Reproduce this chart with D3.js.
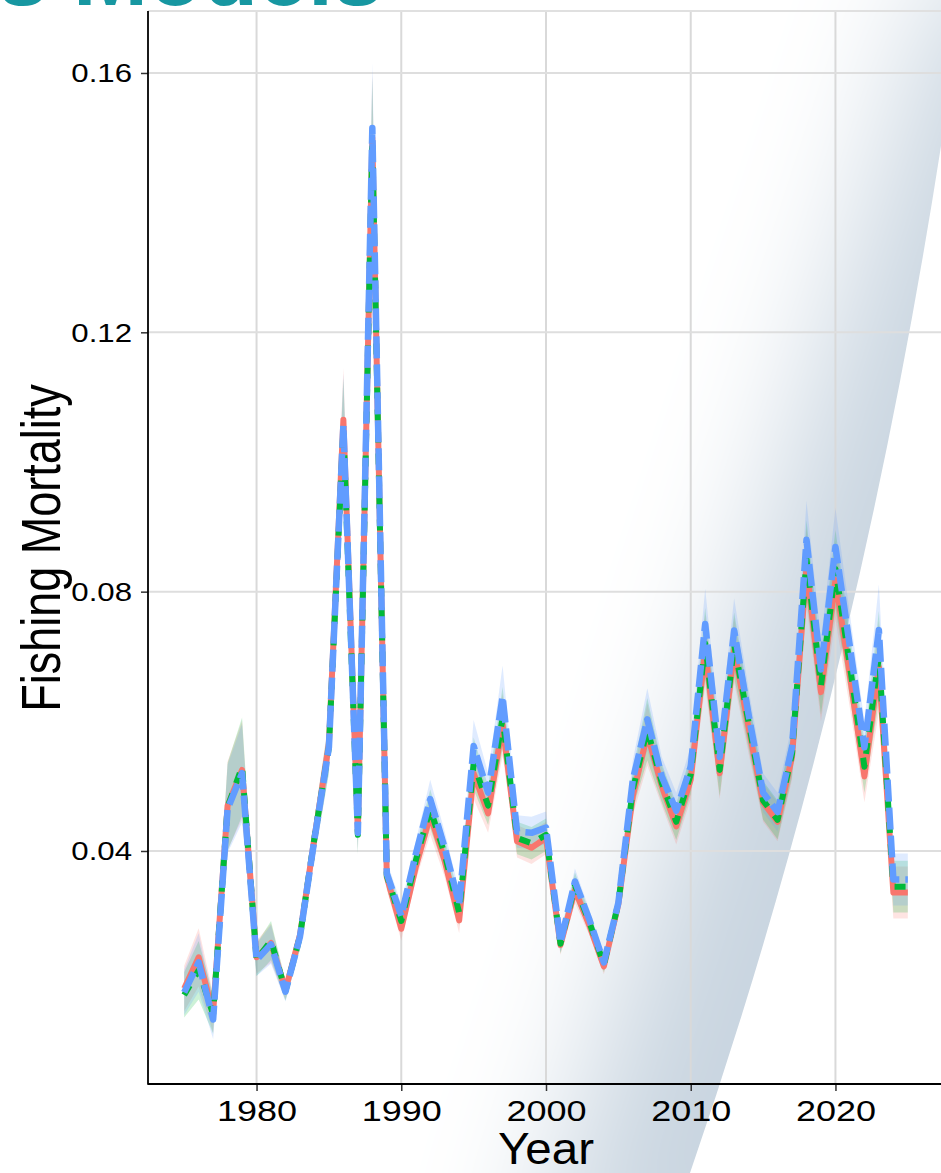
<!DOCTYPE html>
<html lang="en">
<head>
<meta charset="UTF-8">
<title>Fishing Mortality</title>
<script src="https://d3js.org/d3.v7.min.js"></script>
<style>
  body { margin: 0; background: #fff; overflow: hidden; }
  svg { display: block; font-family: Arial, "Liberation Sans", sans-serif; }
</style>
</head>
<body>
<div class="canvas"></div>
<script>
  const years = [1975, 1976, 1977, 1978, 1979, 1980, 1981, 1982, 1983, 1984,
    1985, 1986, 1987, 1988, 1989, 1990, 1991, 1992, 1993, 1994,
    1995, 1996, 1997, 1998, 1999, 2000, 2001, 2002, 2003, 2004,
    2005, 2006, 2007, 2008, 2009, 2010, 2011, 2012, 2013, 2014,
    2015, 2016, 2017, 2018, 2019, 2020, 2021, 2022, 2023, 2024, 2025]

  // model 1 (red, solid)
  const fRed = [0.0188, 0.0236, 0.0150, 0.0470, 0.0525, 0.0236, 0.0258, 0.0186, 0.0270, 0.0420,
    0.0565, 0.1065, 0.0430, 0.1500, 0.0360, 0.0280, 0.0375, 0.0455, 0.0385, 0.0293,
    0.0520, 0.0458, 0.0595, 0.0415, 0.0405, 0.0420, 0.0255, 0.0340, 0.0285, 0.0222,
    0.0318, 0.0485, 0.0580, 0.0500, 0.0438, 0.0510, 0.0710, 0.0520, 0.0710, 0.0590,
    0.0475, 0.0445, 0.0545, 0.0838, 0.0645, 0.0818, 0.0670, 0.0515, 0.0684, 0.0336, 0.0336]

  // model 2 (green, dashed)
  const fGreen = [0.0178, 0.0216, 0.0148, 0.0468, 0.0530, 0.0232, 0.0262, 0.0184, 0.0268, 0.0420,
    0.0560, 0.1050, 0.0425, 0.1495, 0.0362, 0.0292, 0.0385, 0.0465, 0.0395, 0.0305,
    0.0535, 0.0470, 0.0605, 0.0420, 0.0412, 0.0425, 0.0257, 0.0347, 0.0290, 0.0225,
    0.0320, 0.0495, 0.0588, 0.0505, 0.0445, 0.0518, 0.0720, 0.0525, 0.0718, 0.0598,
    0.0478, 0.0448, 0.0550, 0.0850, 0.0655, 0.0835, 0.0685, 0.0530, 0.0700, 0.0345, 0.0345]

  // model 3 (blue, long dash)
  const fBlue = [0.0182, 0.0228, 0.0140, 0.0465, 0.0520, 0.0232, 0.0256, 0.0183, 0.0268, 0.0418,
    0.0560, 0.1057, 0.0428, 0.1515, 0.0365, 0.0300, 0.0395, 0.0480, 0.0405, 0.0318,
    0.0562, 0.0490, 0.0638, 0.0430, 0.0428, 0.0436, 0.0259, 0.0353, 0.0294, 0.0228,
    0.0320, 0.0510, 0.0603, 0.0515, 0.0462, 0.0530, 0.0750, 0.0545, 0.0740, 0.0610,
    0.0490, 0.0460, 0.0560, 0.0880, 0.0680, 0.0869, 0.0715, 0.0560, 0.0741, 0.0356, 0.0356]

  // half width of the confidence band
  const ciHalf = [0.0035, 0.0045, 0.0030, 0.0068, 0.0076, 0.0025, 0.0030, 0.0015, 0.0020, 0.0030,
    0.0040, 0.0080, 0.0030, 0.0100, 0.0020, 0.0018, 0.0020, 0.0030, 0.0025, 0.0020,
    0.0040, 0.0030, 0.0048, 0.0025, 0.0025, 0.0025, 0.0015, 0.0020, 0.0015, 0.0012,
    0.0020, 0.0030, 0.0048, 0.0030, 0.0028, 0.0030, 0.0055, 0.0040, 0.0050, 0.0040,
    0.0030, 0.0030, 0.0035, 0.0060, 0.0045, 0.0060, 0.0050, 0.0040, 0.0070, 0.0040, 0.0040]

  const xTicks = [1980, 1990, 2000, 2010, 2020]
  const yTicks = [0.04, 0.08, 0.12, 0.16]

  const W = 941, H = 1173
  const panel = {left: 148, right: 944, top: 11, bottom: 1084}
  const stretch = 1.2  // the source picture is a little wider than tall

  const svg = d3.select('.canvas')
    .append('svg')
    .attr('width', W)
    .attr('height', H)

  // slide background swoosh: sharp right edge, blurred mask for the soft left side
  const defs = svg.append('defs')
  defs.append('filter')
    .attr('id', 'soft')
    .attr('filterUnits', 'userSpaceOnUse')
    .attr('x', -500).attr('y', -500).attr('width', 3000).attr('height', 3000)
    .append('feGaussianBlur')
    .attr('stdDeviation', 65)
  const mask = defs.append('mask')
    .attr('id', 'fade')
    .attr('maskUnits', 'userSpaceOnUse')
    .attr('x', -500).attr('y', -500).attr('width', 3000).attr('height', 3000)
  mask.append('path')
    .attr('d', 'M520,1300 Q710,700 950,-40 L2000,-40 L2000,1300 Z')
    .attr('fill', '#fff')
    .attr('filter', 'url(#soft)')

  svg.append('path')
    .attr('d', 'M690,1173 Q860,680 945,120 L975,-60 L0,-60 L0,1173 Z')
    .attr('fill', '#c9d5e0')
    .attr('mask', 'url(#fade)')

  // slide title, mostly cut off at the top
  svg.append('text')
    .attr('x', 383)
    .attr('y', 5)
    .attr('text-anchor', 'end')
    .attr('font-size', 90)
    .attr('font-weight', 'bold')
    .attr('fill', '#1797a1')
    .text('Fits Across Models')

  const x = d3.scaleLinear().domain([1972.5, 2027.5]).range([panel.left, panel.right])
  const y = d3.scaleLinear().domain([0.00406, 0.16956]).range([panel.bottom, panel.top])

  const g = svg.append('g')

  // grid
  g.selectAll('.vgrid').data(xTicks).enter()
    .append('line')
    .attr('x1', d => x(d)).attr('x2', d => x(d))
    .attr('y1', panel.top).attr('y2', panel.bottom)
    .attr('stroke', '#d9d9d9').attr('stroke-width', 2)
  g.selectAll('.hgrid').data(yTicks).enter()
    .append('line')
    .attr('x1', panel.left).attr('x2', panel.right)
    .attr('y1', d => y(d)).attr('y2', d => y(d))
    .attr('stroke', '#dedede').attr('stroke-width', 2)
  g.append('line')
    .attr('x1', panel.left).attr('x2', panel.right)
    .attr('y1', panel.top).attr('y2', panel.top)
    .attr('stroke', '#e0e0e0').attr('stroke-width', 2)

  const models = [
    {name: 'Model 1', values: fRed, color: '#F8766D', dash: null, width: 6},
    {name: 'Model 2', values: fGreen, color: '#00BA38', dash: '11,11', width: 6},
    {name: 'Model 3', values: fBlue, color: '#619CFF', dash: '22,6', width: 6.5}
  ]

  const area = d3.area()
    .x((d, i) => x(years[i]))
    .y0((d, i) => y(d - ciHalf[i]))
    .y1((d, i) => y(d + ciHalf[i]))

  const line = d3.line()
    .x((d, i) => x(years[i]))
    .y(d => y(d))

  g.selectAll('.band').data(models).enter()
    .append('path')
    .attr('d', d => area(d.values))
    .attr('fill', d => d.color)
    .attr('fill-opacity', 0.2)

  g.selectAll('.series').data(models).enter()
    .append('path')
    .attr('d', d => line(d.values))
    .attr('fill', 'none')
    .attr('stroke', d => d.color)
    .attr('stroke-width', d => d.width)
    .attr('stroke-linejoin', 'round')
    .attr('stroke-dasharray', d => d.dash)

  // axes
  const xAxis = g.append('g')
    .attr('transform', `translate(0, ${panel.bottom})`)
    .call(d3.axisBottom(x).tickValues(xTicks).tickFormat(d3.format('d')).tickSize(7).tickPadding(8))
  xAxis.select('.domain').remove()
  xAxis.selectAll('line').attr('stroke', '#333').attr('stroke-width', 1.5)
  xAxis.selectAll('text')
    .attr('font-size', 30)
    .attr('font-family', 'Arial, "Liberation Sans", sans-serif')
    .attr('fill', '#000')
    .attr('dy', null)
    .attr('y', null)
    .attr('transform', `translate(0, 37) scale(${stretch}, 1)`)

  const yAxis = g.append('g')
    .attr('transform', `translate(${panel.left}, 0)`)
    .call(d3.axisLeft(y).tickValues(yTicks).tickFormat(d3.format('.2f')).tickSize(7))
  yAxis.select('.domain').remove()
  yAxis.selectAll('line').attr('stroke', '#333').attr('stroke-width', 1.5)
  yAxis.selectAll('text')
    .attr('x', null).attr('dy', null)
    .attr('text-anchor', 'end')
    .attr('font-size', 26)
    .attr('font-family', 'Arial, "Liberation Sans", sans-serif')
    .attr('fill', '#000')
    .attr('transform', `translate(-16, 9) scale(${stretch}, 1)`)

  g.append('line')
    .attr('x1', panel.left).attr('x2', panel.left)
    .attr('y1', panel.top).attr('y2', panel.bottom + 0.75)
    .attr('stroke', '#000').attr('stroke-width', 1.8)
  g.append('line')
    .attr('x1', panel.left).attr('x2', panel.right)
    .attr('y1', panel.bottom).attr('y2', panel.bottom)
    .attr('stroke', '#000').attr('stroke-width', 1.8)

  // axis titles
  svg.append('text')
    .attr('transform', `translate(${(panel.left + panel.right) / 2}, 1164) scale(1.08, 1)`)
    .attr('text-anchor', 'middle')
    .attr('font-size', 44)
    .attr('fill', '#000')
    .text('Year')

  svg.append('text')
    .attr('transform', 'translate(60, 548) scale(1.24, 1) rotate(-90)')
    .attr('text-anchor', 'middle')
    .attr('font-size', 45)
    .attr('fill', '#000')
    .text('Fishing Mortality')
</script>
</body>
</html>
